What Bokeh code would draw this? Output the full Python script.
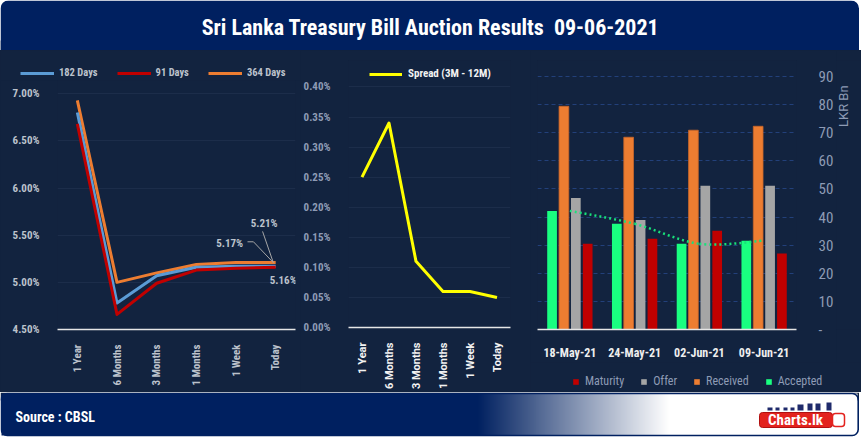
import math
import numpy as np
from bokeh.plotting import figure
from bokeh.layouts import column, row
from bokeh.models import (ColumnDataSource, FactorRange, Range1d, Legend, LegendItem, Label,
                          PrintfTickFormatter, CustomJSTickFormatter, FixedTicker)
from bokeh.transform import dodge
from bokeh.core.properties import value
from bokeh.embed import file_html
from bokeh.resources import INLINE

# ---------------- data ----------------
tenors = ["1 Year", "6 Months", "3 Months", "1 Months", "1 Week", "Today"]
yield_182 = [6.80, 4.78, 5.07, 5.16, 5.17, 5.17]
yield_91 = [6.68, 4.66, 4.99, 5.13, 5.15, 5.16]
yield_364 = [6.93, 5.00, 5.10, 5.19, 5.21, 5.21]
spread = [0.25, 0.34, 0.11, 0.06, 0.06, 0.05]

dates = ["18-May-21", "24-May-21", "02-Jun-21", "09-Jun-21"]
accepted = [42.2, 37.6, 30.5, 31.6]
received = [79.4, 68.4, 70.9, 72.3]
offer = [46.8, 39.0, 51.1, 51.1]
maturity = [30.5, 32.3, 35.1, 27.0]

yield_ticks = [4.5, 5.0, 5.5, 6.0, 6.5, 7.0]
spread_ticks = [0.0, 0.05, 0.10, 0.15, 0.20, 0.25, 0.30, 0.35, 0.40]
amount_ticks = [0, 10, 20, 30, 40, 50, 60, 70, 80, 90]

title_text = "Sri Lanka Treasury Bill Auction Results \u00a009-06-2021"
source_text = "Source : CBSL"

# ---------------- style ----------------
NARROW = "'Liberation Sans Narrow', 'Roboto Condensed', 'DejaVu Sans Condensed', 'Arial Narrow', sans-serif"
WIDE = "Roboto, 'Open Sans', sans-serif"
BG = "#12233f"
NAVY = "#002060"
LBL = "#bcc2cc"
LBL2 = "#8e9bb5"
GRID = "#1c2d4a"
C_BLUE, C_RED, C_ORANGE, C_GREY, C_GREEN, C_YELLOW = "#5b9bd5", "#c00000", "#ed7d31", "#a5a5a5", "#19ff80", "#ffff00"
BGSTYLE = {"background-color": BG}

W = 861
H_T, H_M, H_F = 50, 342, 48
STRIP = 30


def no_align(p):
    try:
        p.frame_align = False
    except Exception:
        pass
    return p


def plain(p, bg=BG):
    p.grid.visible = False
    p.outline_line_color = None
    p.background_fill_color = bg
    p.border_fill_color = bg
    p.styles = {"background-color": bg}
    return p


def base(p):
    p.background_fill_color = BG
    p.border_fill_color = BG
    p.outline_line_color = None
    p.styles = dict(BGSTYLE)
    p.xgrid.grid_line_color = None
    for ax in p.axis:
        ax.major_tick_line_color = None
        ax.minor_tick_line_color = None
    p.yaxis.axis_line_color = None
    p.xaxis.axis_line_color = "#e6e6e6"
    p.xaxis.axis_line_width = 1.5
    return p


# ---------------- left: yields ----------------
left = figure(width=300, height=H_M - STRIP, x_range=FactorRange(factors=tenors, range_padding=0),
              y_range=Range1d(4.5, 7.14), output_backend="svg", toolbar_location=None,
              min_border_left=57, min_border_right=5, min_border_top=0, min_border_bottom=63)
base(left)
no_align(left)
left.yaxis.ticker = FixedTicker(ticks=yield_ticks)
left.yaxis.formatter = PrintfTickFormatter(format="%.2f%%")
left.ygrid.grid_line_color = GRID
left.yaxis.major_label_text_color = LBL
left.yaxis.major_label_text_font = NARROW
left.yaxis.major_label_text_font_size = "11px"
left.yaxis.major_label_text_font_style = "bold"
left.yaxis.major_label_standoff = 12
left.xaxis.major_label_orientation = math.pi / 2
left.xaxis.major_label_text_color = LBL
left.xaxis.major_label_text_font = NARROW
left.xaxis.major_label_text_font_size = "11px"
left.xaxis.major_label_text_font_style = "bold"
left.xaxis.major_label_standoff = 9

left.line(tenors, yield_364, line_color=C_ORANGE, line_width=3, line_join="round")
left.line(tenors, yield_182, line_color=C_BLUE, line_width=3, line_join="round")
left.line(tenors, yield_91, line_color=C_RED, line_width=3, line_join="round")

left.line(x=[5.17, 5.44], y=[5.54, 5.21], line_color="#a6a6a6", line_width=1)
left.line(x=[4.79, 4.94, 5.44], y=[5.43, 5.43, 5.21], line_color="#a6a6a6", line_width=1)
for tx, ty, tt in [(5.21, 5.625, "5.21%"), (4.34, 5.41, "5.17%"), (5.69, 5.02, "5.16%")]:
    left.add_layout(Label(x=tx, y=ty, text=tt, text_align="center", text_baseline="middle",
                          text_color=LBL, text_font=NARROW, text_font_size="11px", text_font_style="bold"))

# legend strip above the left chart
lstrip = figure(width=300, height=STRIP, x_range=Range1d(0, 300), y_range=Range1d(0, STRIP),
                x_axis_location=None, y_axis_location=None, min_border=0,
                output_backend="svg", toolbar_location=None)
plain(lstrip)
no_align(lstrip)
k182 = lstrip.line(x=[np.nan], y=[np.nan], line_color=C_BLUE, line_width=3)
k91 = lstrip.line(x=[np.nan], y=[np.nan], line_color=C_RED, line_width=3)
k364 = lstrip.line(x=[np.nan], y=[np.nan], line_color=C_ORANGE, line_width=3)
lstrip.add_layout(Legend(items=[LegendItem(label="182 Days", renderers=[k182]),
                                LegendItem(label="91 Days", renderers=[k91]),
                                LegendItem(label="364 Days", renderers=[k364])],
                         orientation="horizontal", location=(20, 1), background_fill_alpha=0,
                         border_line_color=None, padding=0, margin=0, spacing=19, label_standoff=5,
                         glyph_width=34, glyph_height=12, label_height=12,
                         label_text_font=NARROW, label_text_font_size="10.5px", label_text_color=LBL,
                         label_text_font_style="bold"))

# ---------------- middle: spread ----------------
mid = figure(width=230, height=H_M, x_range=FactorRange(factors=tenors, range_padding=0),
             y_range=Range1d(0, 0.444), output_backend="svg", toolbar_location=None,
             min_border_left=48, min_border_right=20, min_border_top=10, min_border_bottom=63)
base(mid)
mid.yaxis.ticker = FixedTicker(ticks=spread_ticks)
mid.yaxis.formatter = PrintfTickFormatter(format="%.2f%%")
mid.ygrid.grid_line_color = GRID
mid.yaxis.major_label_text_color = LBL2
mid.yaxis.major_label_text_font = NARROW
mid.yaxis.major_label_text_font_size = "11px"
mid.yaxis.major_label_text_font_style = "bold"
mid.yaxis.major_label_standoff = 12
mid.xaxis.major_label_orientation = math.pi / 2
mid.xaxis.major_label_text_color = "#f2f2f2"
mid.xaxis.major_label_text_font = WIDE
mid.xaxis.major_label_text_font_size = "11px"
mid.xaxis.major_label_text_font_style = "bold"
mid.xaxis.major_label_standoff = 9

rsp = mid.line(tenors, spread, line_color=C_YELLOW, line_width=3, line_join="round")
mid.add_layout(Legend(items=[LegendItem(label="Spread (3M - 12M)", renderers=[rsp])],
                      orientation="horizontal", location=(21, 247), background_fill_alpha=0,
                      border_line_color=None, padding=0, margin=0, label_standoff=6,
                      glyph_width=33, glyph_height=12, label_height=12,
                      label_text_font=NARROW, label_text_font_size="11px", label_text_color="#f2f2f2",
                      label_text_font_style="bold"))

# ---------------- right: auction amounts ----------------
right = figure(width=306, height=H_M - STRIP, x_range=FactorRange(factors=dates, range_padding=0),
               y_range=Range1d(0, 95.7), y_axis_location="right", output_backend="svg",
               toolbar_location=None, min_border_left=7, min_border_right=38,
               min_border_top=10, min_border_bottom=32)
base(right)
right.yaxis.ticker = FixedTicker(ticks=amount_ticks)
right.yaxis.formatter = CustomJSTickFormatter(code="return tick == 0 ? '-' : tick.toFixed(0);")
right.ygrid.grid_line_color = "#22407a"
right.ygrid.grid_line_dash = "4 3"
right.yaxis.major_label_text_color = LBL2
right.yaxis.major_label_text_font = NARROW
right.yaxis.major_label_text_font_size = "15px"
right.yaxis.major_label_standoff = 16
right.xaxis.major_label_text_color = "#eeeeee"
right.xaxis.major_label_text_font = NARROW
right.xaxis.major_label_text_font_size = "12px"
right.xaxis.major_label_text_font_style = "bold"
right.xaxis.major_label_standoff = 10

src = ColumnDataSource(dict(dates=dates, accepted=accepted, received=received,
                            offer=offer, maturity=maturity))
bw = 0.15
right.vbar(x=dodge("dates", -0.275, range=right.x_range), top="accepted", width=bw,
           source=src, fill_color=C_GREEN, line_color=None)
right.vbar(x=dodge("dates", -0.092, range=right.x_range), top="received", width=bw,
           source=src, fill_color=C_ORANGE, line_color="#c9662a", line_width=0.8)
right.vbar(x=dodge("dates", 0.092, range=right.x_range), top="offer", width=bw,
           source=src, fill_color=C_GREY, line_color=None)
right.vbar(x=dodge("dates", 0.275, range=right.x_range), top="maturity", width=bw,
           source=src, fill_color=C_RED, line_color=None)

# smoothed dotted line through the accepted values
cx = [i + 0.5 for i in range(len(dates))]
pts = list(zip(cx, accepted))
bz = dict(x0=[], y0=[], x1=[], y1=[], cx0=[], cy0=[], cx1=[], cy1=[])
n = len(pts)
for i in range(n - 1):
    p0, p1, p2, p3 = pts[max(i - 1, 0)], pts[i], pts[i + 1], pts[min(i + 2, n - 1)]
    bz["x0"].append(p1[0]); bz["y0"].append(p1[1])
    bz["x1"].append(p2[0]); bz["y1"].append(p2[1])
    bz["cx0"].append(p1[0] + (p2[0] - p0[0]) / 6); bz["cy0"].append(p1[1] + (p2[1] - p0[1]) / 6)
    bz["cx1"].append(p2[0] - (p3[0] - p1[0]) / 6); bz["cy1"].append(p2[1] - (p3[1] - p1[1]) / 6)
right.bezier(source=ColumnDataSource(bz), x0="x0", y0="y0", x1="x1", y1="y1",
             cx0="cx0", cy0="cy0", cx1="cx1", cy1="cy1",
             line_color="#19e07a", line_width=2.5, line_dash=value("2 3"))

# axis title strip ("LKR Bn")
ulab = figure(width=25, height=H_M - STRIP, x_range=Range1d(0, 25), y_range=Range1d(0, H_M - STRIP),
              x_axis_location=None, y_axis_location=None, min_border=0,
              output_backend="svg", toolbar_location=None)
plain(ulab)
ulab.text(x=[7], y=[H_M - STRIP - 53], text=["LKR Bn"], angle=math.pi / 2, text_align="center",
          text_baseline="middle", text_color=LBL2, text_font=value(WIDE), text_font_size="13px")

# legend strip below the right chart
rstrip = figure(width=331, height=STRIP, x_range=Range1d(0, 331), y_range=Range1d(0, STRIP),
                x_axis_location=None, y_axis_location=None, min_border=0,
                output_backend="svg", toolbar_location=None)
plain(rstrip)
no_align(rstrip)
k_mat = rstrip.vbar(x=[np.nan], top=[np.nan], width=1, fill_color=C_RED, line_color=None)
k_off = rstrip.vbar(x=[np.nan], top=[np.nan], width=1, fill_color=C_GREY, line_color=None)
k_rec = rstrip.vbar(x=[np.nan], top=[np.nan], width=1, fill_color=C_ORANGE, line_color=None)
k_acc = rstrip.vbar(x=[np.nan], top=[np.nan], width=1, fill_color=C_GREEN, line_color=None)
rstrip.add_layout(Legend(items=[LegendItem(label="Maturity", renderers=[k_mat]),
                                LegendItem(label="Offer", renderers=[k_off]),
                                LegendItem(label="Received", renderers=[k_rec]),
                                LegendItem(label="Accepted", renderers=[k_acc])],
                         orientation="horizontal", location=(42, 4), background_fill_alpha=0,
                         border_line_color=None, padding=0, margin=0, spacing=16, label_standoff=6,
                         glyph_width=7, glyph_height=7, label_height=10,
                         label_text_font=NARROW, label_text_font_size="12px", label_text_color=LBL2))

# ---------------- title bar ----------------
tfig = figure(width=W, height=H_T, x_range=Range1d(0, W), y_range=Range1d(0, H_T),
              x_axis_location=None, y_axis_location=None, min_border=0,
              output_backend="svg", toolbar_location=None)
plain(tfig, "white")
tfig.quad(left=[0], right=[858.5], bottom=[0], top=[10], fill_color=BG, line_color=None)
tfig.quad(left=[0], right=[858.5], bottom=[0], top=[H_T], fill_color=NAVY,
          line_color=None, border_radius=(8, 8, 0, 0))
tfig.text(x=[430], y=[23], text=[title_text], text_font=value(NARROW), text_font_size="22px",
          text_font_style="bold", text_color="white", text_align="center", text_baseline="middle")

# ---------------- footer ----------------
ffig = figure(width=W, height=H_F, x_range=Range1d(0, W), y_range=Range1d(0, H_F),
              x_axis_location=None, y_axis_location=None, min_border=0,
              output_backend="svg", toolbar_location=None)
plain(ffig, "white")
ffig.quad(left=[0], right=[858.5], bottom=[40], top=[H_F], fill_color=BG, line_color=None)

N = 430
t = np.linspace(0, 1, N)
f = np.clip((t - 0.556) / (0.78 - 0.556), 0, 1)
img = np.empty((1, N), dtype=np.uint32)
view = img.view(dtype=np.uint8).reshape((1, N, 4))
view[0, :, 0] = (0 + f * 255).astype(np.uint8)
view[0, :, 1] = (32 + f * 223).astype(np.uint8)
view[0, :, 2] = (96 + f * 159).astype(np.uint8)
view[0, :, 3] = 255
ffig.image_rgba(image=[img], x=1, y=5, dw=856, dh=42)
ffig.quad(left=[0.8], right=[857.7], bottom=[5], top=[47], fill_alpha=0,
          line_color=NAVY, line_width=1.6, border_radius=6)
ffig.text(x=[15], y=[24], text=[source_text], text_font=value(NARROW), text_font_size="14px",
          text_font_style="bold", text_color="white", text_align="left", text_baseline="middle")

# logo
ffig.quad(left=[759], right=[832], bottom=[13], top=[28], fill_color="#e3231e",
          line_color="#b01010", border_radius=3)
ffig.text(x=[795], y=[20.5], text=["Charts.lk"], text_font=value(NARROW), text_font_size="15px",
          text_font_style="bold", text_color="white", text_align="center", text_baseline="middle")
ffig.quad(left=[767, 775, 783, 790, 797, 807, 815, 826],
          right=[772, 779, 787, 794, 803, 812, 820, 831],
          bottom=[30] * 8, top=[33, 33, 33, 33, 36, 37, 37, 38],
          fill_color="#1f2a6b", line_color=None)
ffig.quad(left=[832], right=[844], bottom=[14], top=[27], fill_color="white",
          line_color="#e3231e", line_width=1.5, border_radius=3)

left_col = column(row(lstrip, spacing=0, styles=dict(BGSTYLE)), left, spacing=0, styles=dict(BGSTYLE))
right_col = column(row(right, ulab, spacing=0, styles=dict(BGSTYLE)), rstrip, spacing=0,
                   styles=dict(BGSTYLE))
main = row(left_col, mid, right_col, spacing=0, styles=dict(BGSTYLE))
layout = column(tfig, main, ffig, spacing=0)
open("out.html", "w").write(file_html(layout, INLINE))
